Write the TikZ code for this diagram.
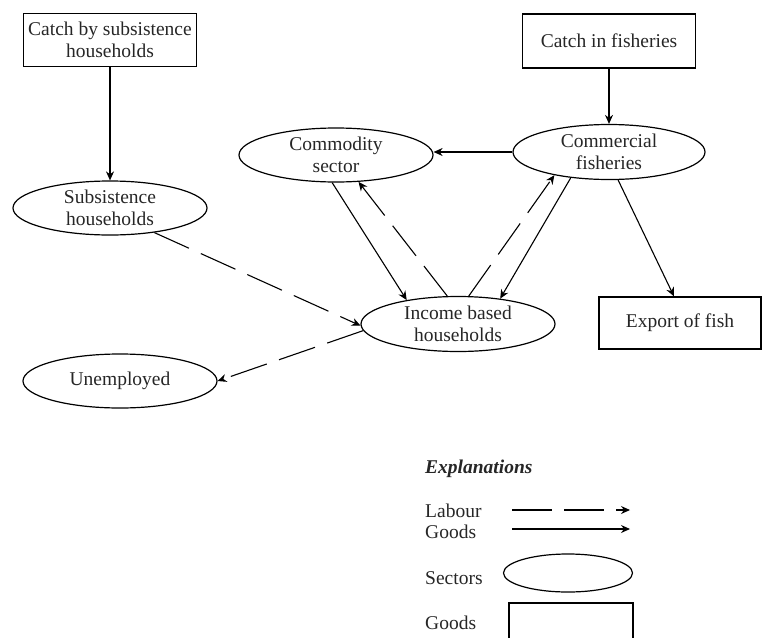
\documentclass[tikz,border=0pt]{standalone}
\usepackage{fontspec}
\setmainfont{Liberation Serif}
\usetikzlibrary{arrows.meta,shapes.geometric,calc}
\begin{document}
\begin{tikzpicture}[x=1pt,y=-1pt,
  every node/.style={font=\fontsize{19.5}{22.5}\selectfont, text=black!85, align=center, inner sep=0pt},
  sector/.style={draw, ellipse, line width=1.2pt, inner ysep=-3pt, minimum width=194pt, minimum height=54pt},
  goodsbox/.style={draw, rectangle, line width=1.2pt, minimum width=173pt, minimum height=53pt},
  flow/.style={line width=1.1pt, -{Stealth[length=9pt,width=8pt]}},
  labour/.style={flow, dash pattern=on 38pt off 13pt},
  lbl/.style={anchor=base west}]
\useasboundingbox (0,0) rectangle (762,637);
\clip (0,0) rectangle (762,637);

% goods boxes
\node[goodsbox] (csub) at (110,40) {Catch by subsistence\\households};
\node[goodsbox, minimum height=54pt] (cfish) at (609,41) {Catch in fisheries};
\node[goodsbox, minimum width=162pt, minimum height=52pt] (exp) at (680,323) {Export of fish};

% sectors
\node[sector] (subh) at (110,208) {Subsistence\\households};
\node[sector] (comm) at (336,155) {Commodity\\sector};
\node[sector, minimum width=192pt, minimum height=55pt] (cf) at (609,152) {Commercial\\fisheries};
\node[sector, minimum height=55pt] (inc) at (458,324) {Income based\\households};
\node[sector] (unemp) at (120,381) {Unemployed};

% connectors
\draw[flow] (csub.south) -- (csub.south |- subh.north);
\draw[flow] (cfish.south) -- (cf.north);
\draw[flow] (cf.west) -- (cf.west -| comm.east);
\draw[flow] (comm.-98) -- (inc.155);
\draw[labour] (inc.111) -- (comm.-50);
\draw[labour] (inc.69) -- (cf.-157);
\draw[flow] (cf.-146) -- (inc.31);
\draw[flow] (cf.-72) -- ([xshift=-6pt]exp.north);
\draw[labour] (subh.-29) -- (inc.181);
\draw[labour] (inc.184) -- (unemp.east);

% legend
\node[lbl, font=\fontsize{19.5}{22.5}\selectfont\bfseries\itshape] (expl) at (425,473) {Explanations};
\node[lbl] (llab) at (425,517) {Labour};
\node[lbl] (lgoods) at (425,538) {Goods};
\node[lbl] (lsec) at (425,584) {Sectors};
\node[lbl] (lgoods2) at (425,629) {Goods};
\coordinate (la1) at (512,510);
\coordinate (la2) at (630,510);
\draw[labour, dash pattern=on 40pt off 12pt] (la1) -- (la2);
\coordinate (lg1) at (512,529);
\coordinate (lg2) at (630,529);
\draw[flow] (lg1) -- (lg2);
\node[sector, inner ysep=0pt, minimum width=129pt, minimum height=38pt] (lsecshape) at (568,573) {};
\node[goodsbox, minimum width=124pt, minimum height=60pt] (lbox) at (571,633) {};
\end{tikzpicture}
\end{document}
